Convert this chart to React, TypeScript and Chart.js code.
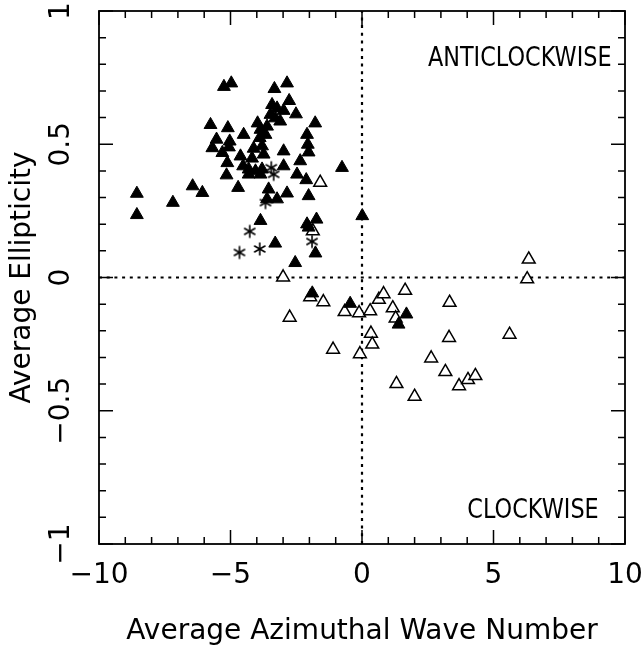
import React, { useEffect, useRef } from 'react';
import { Chart, registerables } from 'chart.js';

Chart.register(...registerables);

// Filled triangles [wave number, ellipticity]
const filledPoints: number[][] = [
  [-8.56, 0.315], [-8.56, 0.235], [-7.19, 0.281], [-6.44, 0.343], [-6.07, 0.318],
  [-5.25, 0.716], [-4.97, 0.729], [-5.76, 0.573], [-5.53, 0.518], [-5.69, 0.486],
  [-5.31, 0.468], [-5.1, 0.561], [-5.03, 0.511], [-5.06, 0.489], [-5.12, 0.43],
  [-5.15, 0.384], [-4.71, 0.337], [-4.5, 0.536], [-4.62, 0.455], [-4.52, 0.418],
  [-4.31, 0.406], [-4.31, 0.387], [-4.18, 0.447], [-4.12, 0.484], [-4.05, 0.399],
  [-3.97, 0.579], [-3.86, 0.555], [-3.89, 0.524], [-3.8, 0.493], [-3.74, 0.462],
  [-3.86, 0.387], [-3.8, 0.406], [-3.61, 0.567], [-3.67, 0.536], [-3.42, 0.648],
  [-3.23, 0.635], [-2.98, 0.626], [-3.48, 0.611], [-3.3, 0.598], [-3.11, 0.586],
  [-3.33, 0.708], [-2.85, 0.729], [-2.77, 0.663], [-2.51, 0.613], [-1.78, 0.579],
  [-2.98, 0.474], [-2.98, 0.418], [-3.55, 0.331], [-3.23, 0.294], [-2.85, 0.316],
  [-3.61, 0.294], [-2.09, 0.536], [-2.06, 0.499], [-2.03, 0.47], [-2.35, 0.437],
  [-2.47, 0.387], [-2.12, 0.366], [-2.03, 0.306], [-3.86, 0.213], [-3.3, 0.128],
  [-2.54, 0.055], [-2.09, 0.2], [-2.03, 0.188], [-1.73, 0.218], [-1.77, 0.091],
  [-0.76, 0.412], [0.01, 0.231], [-1.89, -0.059], [-0.45, -0.098], [1.69, -0.138],
  [1.39, -0.176],
];

// Open triangles
const openPoints: number[][] = [
  [-1.59, 0.356], [-1.87, 0.174], [-3.0, 0.001], [-1.97, -0.073], [-1.47, -0.092],
  [-2.75, -0.15], [-0.66, -0.129], [-0.11, -0.133], [0.31, -0.126], [0.64, -0.083],
  [0.82, -0.062], [1.64, -0.049], [1.17, -0.115], [1.28, -0.153], [0.34, -0.21],
  [0.39, -0.251], [-1.1, -0.27], [-0.08, -0.287], [3.33, -0.094], [3.31, -0.226],
  [2.63, -0.303], [3.17, -0.354], [3.69, -0.407], [4.03, -0.384], [4.31, -0.369],
  [1.31, -0.399], [2.0, -0.447], [5.61, -0.214], [6.34, 0.068], [6.28, -0.006],
];

// Asterisks
const starPoints: number[][] = [
  [-4.27, 0.173], [-4.66, 0.094], [-3.89, 0.107], [-3.67, 0.281], [-3.45, 0.412],
  [-3.36, 0.387], [-1.9, 0.135],
];

const xRange = [-10, 10];
const yRange = [-1, 1];
const xTitle = 'Average Azimuthal Wave Number';
const yTitle = 'Average Ellipticity';
const quadrantLabels = ['ANTICLOCKWISE', 'CLOCKWISE'];
const quadrantLabelX = [9.49, 9.0];
const quadrantLabelY = [0.794, -0.902];

const FONT = "'DejaVu Sans', sans-serif";

const isMult = (v: number, m: number) => Math.abs(v / m - Math.round(v / m)) < 1e-6;
const fmt = (v: number, m: number) => {
  if (!isMult(v, m)) return '';
  const r = Math.round(v / m) * m;
  const s = String(Math.abs(Math.round(r * 100) / 100));
  return (r < 0 ? '\u2212' : '') + s;
};

function makeStar(): HTMLCanvasElement {
  const c = document.createElement('canvas');
  c.width = 16;
  c.height = 16;
  const g = c.getContext('2d')!;
  g.strokeStyle = '#000';
  g.lineWidth = 1.6;
  g.lineCap = 'butt';
  const r = 6.5;
  [90, 30, 150].forEach((deg) => {
    const a = (deg * Math.PI) / 180;
    g.beginPath();
    g.moveTo(8 - r * Math.cos(a), 8 - r * Math.sin(a));
    g.lineTo(8 + r * Math.cos(a), 8 + r * Math.sin(a));
    g.stroke();
  });
  return c;
}

const framePlugin = {
  id: 'frameTicks',
  afterDatasetsDraw(chart: any) {
    const { ctx, chartArea: a, scales } = chart;
    const xs = scales.x;
    const ys = scales.y;
    ctx.save();
    ctx.strokeStyle = '#000';
    ctx.lineWidth = 1.8;
    ctx.strokeRect(a.left, a.top, a.right - a.left, a.bottom - a.top);
    ctx.lineWidth = 1.5;
    xs.ticks.forEach((t: any) => {
      const p = xs.getPixelForValue(t.value);
      const L = isMult(t.value, 5) ? 14 : 7;
      ctx.beginPath();
      ctx.moveTo(p, a.bottom);
      ctx.lineTo(p, a.bottom - L);
      ctx.moveTo(p, a.top);
      ctx.lineTo(p, a.top + L);
      ctx.stroke();
    });
    ys.ticks.forEach((t: any) => {
      const p = ys.getPixelForValue(t.value);
      const L = isMult(t.value, 0.5) ? 14 : 7;
      ctx.beginPath();
      ctx.moveTo(a.left, p);
      ctx.lineTo(a.left + L, p);
      ctx.moveTo(a.right, p);
      ctx.lineTo(a.right - L, p);
      ctx.stroke();
    });
    ctx.fillStyle = '#000';
    ctx.font = `26px ${FONT}`;
    ctx.textAlign = 'right';
    ctx.textBaseline = 'alphabetic';
    quadrantLabels.forEach((txt, i) => {
      const px = xs.getPixelForValue(quadrantLabelX[i]);
      const py = ys.getPixelForValue(quadrantLabelY[i]);
      ctx.save();
      ctx.translate(px, py);
      ctx.scale(0.86, 1);
      ctx.fillText(txt, 0, 0);
      ctx.restore();
    });
    ctx.restore();
  },
};

export default function App() {
  const ref = useRef<HTMLCanvasElement>(null);

  useEffect(() => {
    if (!ref.current) return;
    const star = makeStar();
    const toXY = (arr: number[][]) => arr.map(([x, y]) => ({ x, y }));
    const chart = new Chart(ref.current, {
      type: 'scatter',
      data: {
        datasets: [
          {
            data: [{ x: 0, y: yRange[0] }, { x: 0, y: yRange[1] }],
            showLine: true,
            borderColor: '#000',
            borderWidth: 2.2,
            borderDash: [3, 4.7],
            pointRadius: 0,
            order: 10,
          },
          {
            data: [{ x: xRange[0], y: 0 }, { x: xRange[1], y: 0 }],
            showLine: true,
            borderColor: '#000',
            borderWidth: 2.2,
            borderDash: [3, 4.7],
            pointRadius: 0,
            order: 10,
          },
          {
            data: toXY(openPoints),
            pointStyle: 'triangle',
            pointRadius: 7.4,
            backgroundColor: '#fff',
            borderColor: '#000',
            borderWidth: 1.5,
            order: 3,
          },
          {
            data: toXY(filledPoints),
            pointStyle: 'triangle',
            pointRadius: 7.4,
            backgroundColor: '#000',
            borderColor: '#000',
            borderWidth: 1,
            order: 2,
          },
          {
            data: toXY(starPoints),
            pointStyle: star as any,
            pointRadius: 7,
            order: 1,
          },
        ],
      },
      options: {
        responsive: false,
        animation: false,
        events: [],
        layout: { padding: { top: 11, right: 19, left: 0, bottom: 0 } },
        plugins: { legend: { display: false }, tooltip: { enabled: false } },
        scales: {
          x: {
            type: 'linear',
            min: xRange[0],
            max: xRange[1],
            grid: { display: false },
            border: { display: false },
            ticks: {
              stepSize: 1,
              autoSkip: false,
              minRotation: 0,
              maxRotation: 0,
              padding: 7,
              color: '#000',
              font: { family: FONT, size: 28 },
              callback: (v: any) => fmt(Number(v), 5),
            },
            title: {
              display: true,
              text: xTitle,
              color: '#000',
              font: { family: FONT, size: 28 },
              padding: { top: 0, bottom: 2 },
            },
            afterFit: (s: any) => {
              s.height = 107;
              s.paddingLeft = 0;
              s.paddingRight = 0;
            },
          },
          y: {
            type: 'linear',
            min: yRange[0],
            max: yRange[1],
            grid: { display: false },
            border: { display: false },
            ticks: {
              stepSize: 0.1,
              autoSkip: false,
              minRotation: 90,
              maxRotation: 90,
              crossAlign: 'center',
              padding: -5,
              color: '#000',
              font: { family: FONT, size: 28 },
              callback: (v: any) => fmt(Number(v), 0.5),
            },
            title: {
              display: true,
              text: yTitle,
              color: '#000',
              font: { family: FONT, size: 28 },
              padding: { top: 6, bottom: 0 },
            },
            afterFit: (s: any) => {
              s.width = 99;
              s.paddingTop = 0;
              s.paddingBottom = 0;
            },
          },
        },
      },
      plugins: [framePlugin],
    } as any);
    return () => chart.destroy();
  }, []);

  return (
    <div style={{ position: 'absolute', left: 0, top: 0, width: 644, height: 651, background: '#fff' }}>
      <canvas ref={ref} width={644} height={651} />
    </div>
  );
}
